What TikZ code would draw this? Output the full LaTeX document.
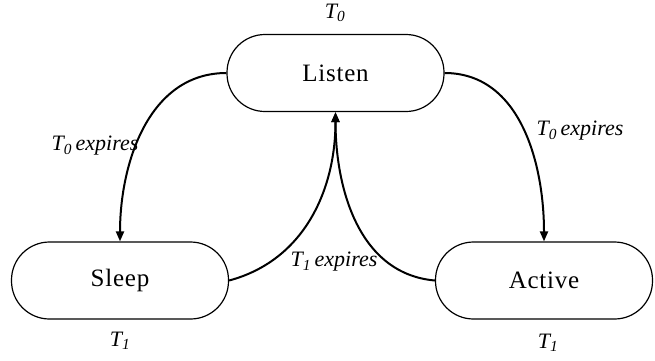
\documentclass[tikz,border=0pt]{standalone}
\usepackage{fontspec}
\setmainfont{Liberation Serif}
\usetikzlibrary{arrows.meta}
\begin{document}
\begin{tikzpicture}[x=1pt,y=-1pt,
  state/.style={draw, line width=1.2pt, rounded corners=38pt,
    minimum width=217pt, minimum height=77pt, inner sep=0pt,
    font=\fontsize{25}{30}\selectfont\addfontfeatures{LetterSpace=3}},
  trans/.style={line width=2pt, -{Triangle[length=10pt,width=8pt]}},
  lbl/.style={font=\fontsize{22}{26}\selectfont\itshape, inner sep=0pt}]
  \useasboundingbox (0,0) rectangle (655,360);

  % states
  \node[state] (listen) at (335.5,73) {Listen};
  \node[state] (sleep)  at (120,280.5) {Sleep};
  \node[state] (active) at (544,280.5) {Active};

  % timers attached to each state
  \node[lbl] (t0)  at (335,13)  {T\textsubscript{0}};
  \node[lbl] (t1s) at (120,341) {T\textsubscript{1}};
  \node[lbl] (t1a) at (548,343) {T\textsubscript{1}};

  % transitions
  \draw[trans] (listen.west) to[out=180,in=90] (sleep.north);
  \draw[trans] (listen.east) to[out=0,in=90] (active.north);
  \draw[trans] (sleep.east) to[out=15,in=-90] (listen.south);
  \draw[trans] (active.west) to[out=175,in=-90] (listen.south);

  % transition labels
  \node[lbl] (e0l) at (95,146)  {T\textsubscript{0}\,expires};
  \node[lbl] (e0r) at (580,131) {T\textsubscript{0}\,expires};
  \node[lbl] (e1)  at (334,262) {T\textsubscript{1}\,expires};
\end{tikzpicture}
\end{document}
